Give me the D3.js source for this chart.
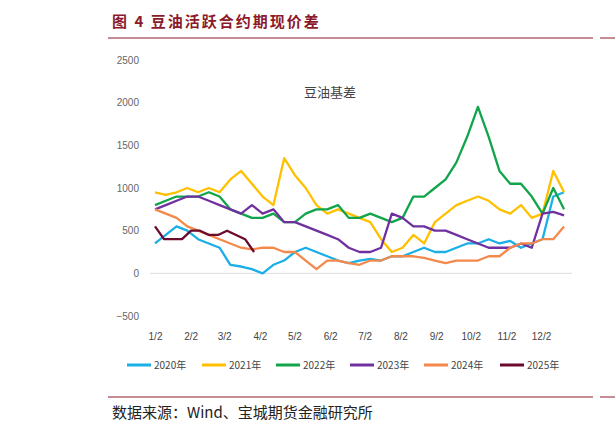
<!DOCTYPE html><html><head><meta charset="utf-8"><script src="https://cdn.jsdelivr.net/npm/d3@7"></script>
<style>body{margin:0;background:#fff;font-family:"Noto Sans CJK SC",sans-serif}</style></head><body><svg id="c" width="615" height="430"></svg>
<script>
const months=["1/2","2/2","3/2","4/2","5/2","6/2","7/2","8/2","9/2","10/2","11/2","12/2"];
const monthDays=[0,31,60,91,121,152,182,213,244,274,305,335];
const yTicks=[2500,2000,1500,1000,500,0,-500];
const years=["2020年","2021年","2022年","2023年","2024年","2025年"];
const colors=["#1AAFE6","#FFC000","#10A54A","#7030A0","#F4894B","#6B0A2E"];
const s2020=[350,450,550,500,400,350,300,100,80,50,0,100,150,250,300,250,200,150,120,150,170,150,200,200,250,300,250,250,300,350,350,400,350,380,300,350,400,900,950];
const s2021=[950,920,950,1000,950,1000,950,1100,1200,1050,900,800,1350,1150,1000,800,700,750,700,650,600,400,250,300,450,350,600,700,800,850,900,850,750,700,800,650,700,1200,950];
const s2022=[800,850,900,900,900,950,900,750,700,650,650,700,600,600,700,750,750,800,650,650,700,650,600,650,900,900,1000,1100,1300,1600,1950,1600,1200,1050,1050,900,700,1000,750];
const s2023=[750,800,850,900,900,850,800,750,700,800,700,750,600,600,550,500,450,400,300,250,250,300,700,650,550,550,500,500,450,400,350,300,300,300,350,300,700,720,680];
const s2024=[750,700,650,550,500,450,400,350,300,280,300,300,250,250,150,50,150,150,120,100,150,150,200,200,200,180,150,120,150,150,150,200,200,300,350,350,400,400,550];
const s2025=[550,400,400,400,500,500,450,450,500,450,400,250];
const series=[s2020,s2021,s2022,s2023,s2024,s2025];
const endDay=[355,355,355,355,355,86];
const svg=d3.select("#c");
const x=d3.scaleLinear().domain([0,335]).range([155,541]);
const y=d3.scaleLinear().domain([-500,2500]).range([316,60]);
svg.append("text").attr("x",112).attr("y",27).attr("fill","#8B1A2B").attr("font-size",15).attr("font-weight","bold").attr("letter-spacing",2).text("图 4 豆油活跃合约期现价差");
svg.append("line").attr("x1",108).attr("x2",593).attr("y1",38).attr("y2",38).attr("stroke","#8B1A2B").attr("stroke-width",1);
svg.append("line").attr("x1",108).attr("x2",593).attr("y1",397).attr("y2",397).attr("stroke","#8B1A2B").attr("stroke-width",1);
svg.append("text").attr("x",112).attr("y",418).attr("font-size",15).attr("fill","#222").text("数据来源：Wind、宝城期货金融研究所");
svg.append("text").attr("x",330).attr("y",97).attr("text-anchor","middle").attr("font-size",13).attr("fill","#444").text("豆油基差");
const ya=svg.append("g").attr("transform","translate(142,0)").call(d3.axisLeft(y).tickValues(yTicks).tickFormat(d3.format("d")).tickSize(0));
ya.select(".domain").remove();
ya.selectAll("text").attr("fill","#666").attr("font-size",10).attr("font-family","Liberation Sans");
svg.append("line").attr("x1",150).attr("x2",572).attr("y1",y(0)).attr("y2",y(0)).attr("stroke","#ddd");
const xa=svg.append("g").attr("transform","translate(0,330)").call(d3.axisBottom(x).tickValues(monthDays).tickFormat((d,i)=>months[i]).tickSize(0));
xa.select(".domain").remove();
xa.selectAll("text").attr("fill","#444").attr("font-size",10).attr("font-family","Liberation Sans");
const line=d3.line().x(d=>x(d[0])).y(d=>y(d[1]));
series.forEach((s,k)=>{
  const pts=s.map((v,i)=>[i*endDay[k]/(s.length-1),v]);
  svg.append("path").datum(pts).attr("d",line).attr("fill","none").attr("stroke",colors[k]).attr("stroke-width",2.3).attr("stroke-linejoin","round");
});
const lx=[127,202,276,350,424,500];
years.forEach((t,i)=>{
  svg.append("line").attr("x1",lx[i]).attr("x2",lx[i]+24).attr("y1",365).attr("y2",365).attr("stroke",colors[i]).attr("stroke-width",3);
  svg.append("text").attr("x",lx[i]+27).attr("y",369).attr("font-size",10).attr("fill","#444").text(t);
});
svg.append("line").attr("x1",600).attr("x2",615).attr("y1",38).attr("y2",38).attr("stroke","#8B1A2B");
svg.append("line").attr("x1",600).attr("x2",615).attr("y1",397).attr("y2",397).attr("stroke","#8B1A2B");
</script></body></html>
